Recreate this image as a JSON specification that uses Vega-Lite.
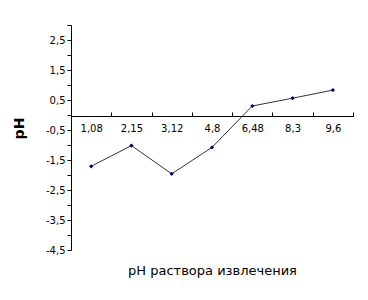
{
  "$schema": "https://vega.github.io/schema/vega-lite/v6.json",
  "width": 282,
  "height": 225,
  "autosize": {"type": "none"},
  "padding": {"left": 71, "top": 25, "right": 15, "bottom": 50},
  "background": "white",
  "config": {
    "view": {"stroke": null},
    "font": "DejaVu Sans",
    "axis": {"grid": false, "domainColor": "black", "tickColor": "black", "labelColor": "black", "titleColor": "black", "labelFont": "DejaVu Sans", "labelFontSize": 10}
  },
  "data": {
    "values": [
      {"x": "1,08", "ph": -1.71},
      {"x": "2,15", "ph": -1.02},
      {"x": "3,12", "ph": -1.96},
      {"x": "4,8", "ph": -1.08},
      {"x": "6,48", "ph": 0.30},
      {"x": "8,3", "ph": 0.56},
      {"x": "9,6", "ph": 0.83}
    ]
  },
  "encoding": {
    "x": {
      "field": "x", "type": "ordinal", "sort": null,
      "scale": {"paddingInner": 0, "paddingOuter": 0},
      "axis": {
        "title": "pH раствора извлечения",
        "titleFont": "DejaVu Sans", "titleFontSize": 13, "titleFontWeight": "normal",
        "titleY": 154, "titleBaseline": "middle",
        "offset": -134,
        "labelAngle": 0, "tickBand": "extent", "tickSize": -4, "labelPadding": 11,
        "domainWidth": 1
      }
    },
    "y": {
      "field": "ph", "type": "quantitative",
      "scale": {"domain": [-4.5, 3], "nice": false, "zero": false},
      "axis": {
        "title": "pH", "titleFont": "DejaVu Sans", "titleFontSize": 14, "titleFontWeight": "bold",
        "titleX": -45, "titleY": 103,
        "values": [-4.5, -4, -3.5, -3, -2.5, -2, -1.5, -1, -0.5, 0, 0.5, 1, 1.5, 2, 2.5, 3],
        "labelExpr": "abs(datum.value % 1) == 0.5 ? (datum.value < 0 ? '-' : '') + replace(format(abs(datum.value), '.1f'), '.', ',') : ''",
        "tickSize": 4, "labelPadding": 2
      }
    }
  },
  "layer": [
    {"mark": {"type": "line", "color": "black", "strokeWidth": 0.8}},
    {"mark": {"type": "point", "shape": "diamond", "filled": true, "color": "#000066", "size": 18, "opacity": 1}}
  ]
}
